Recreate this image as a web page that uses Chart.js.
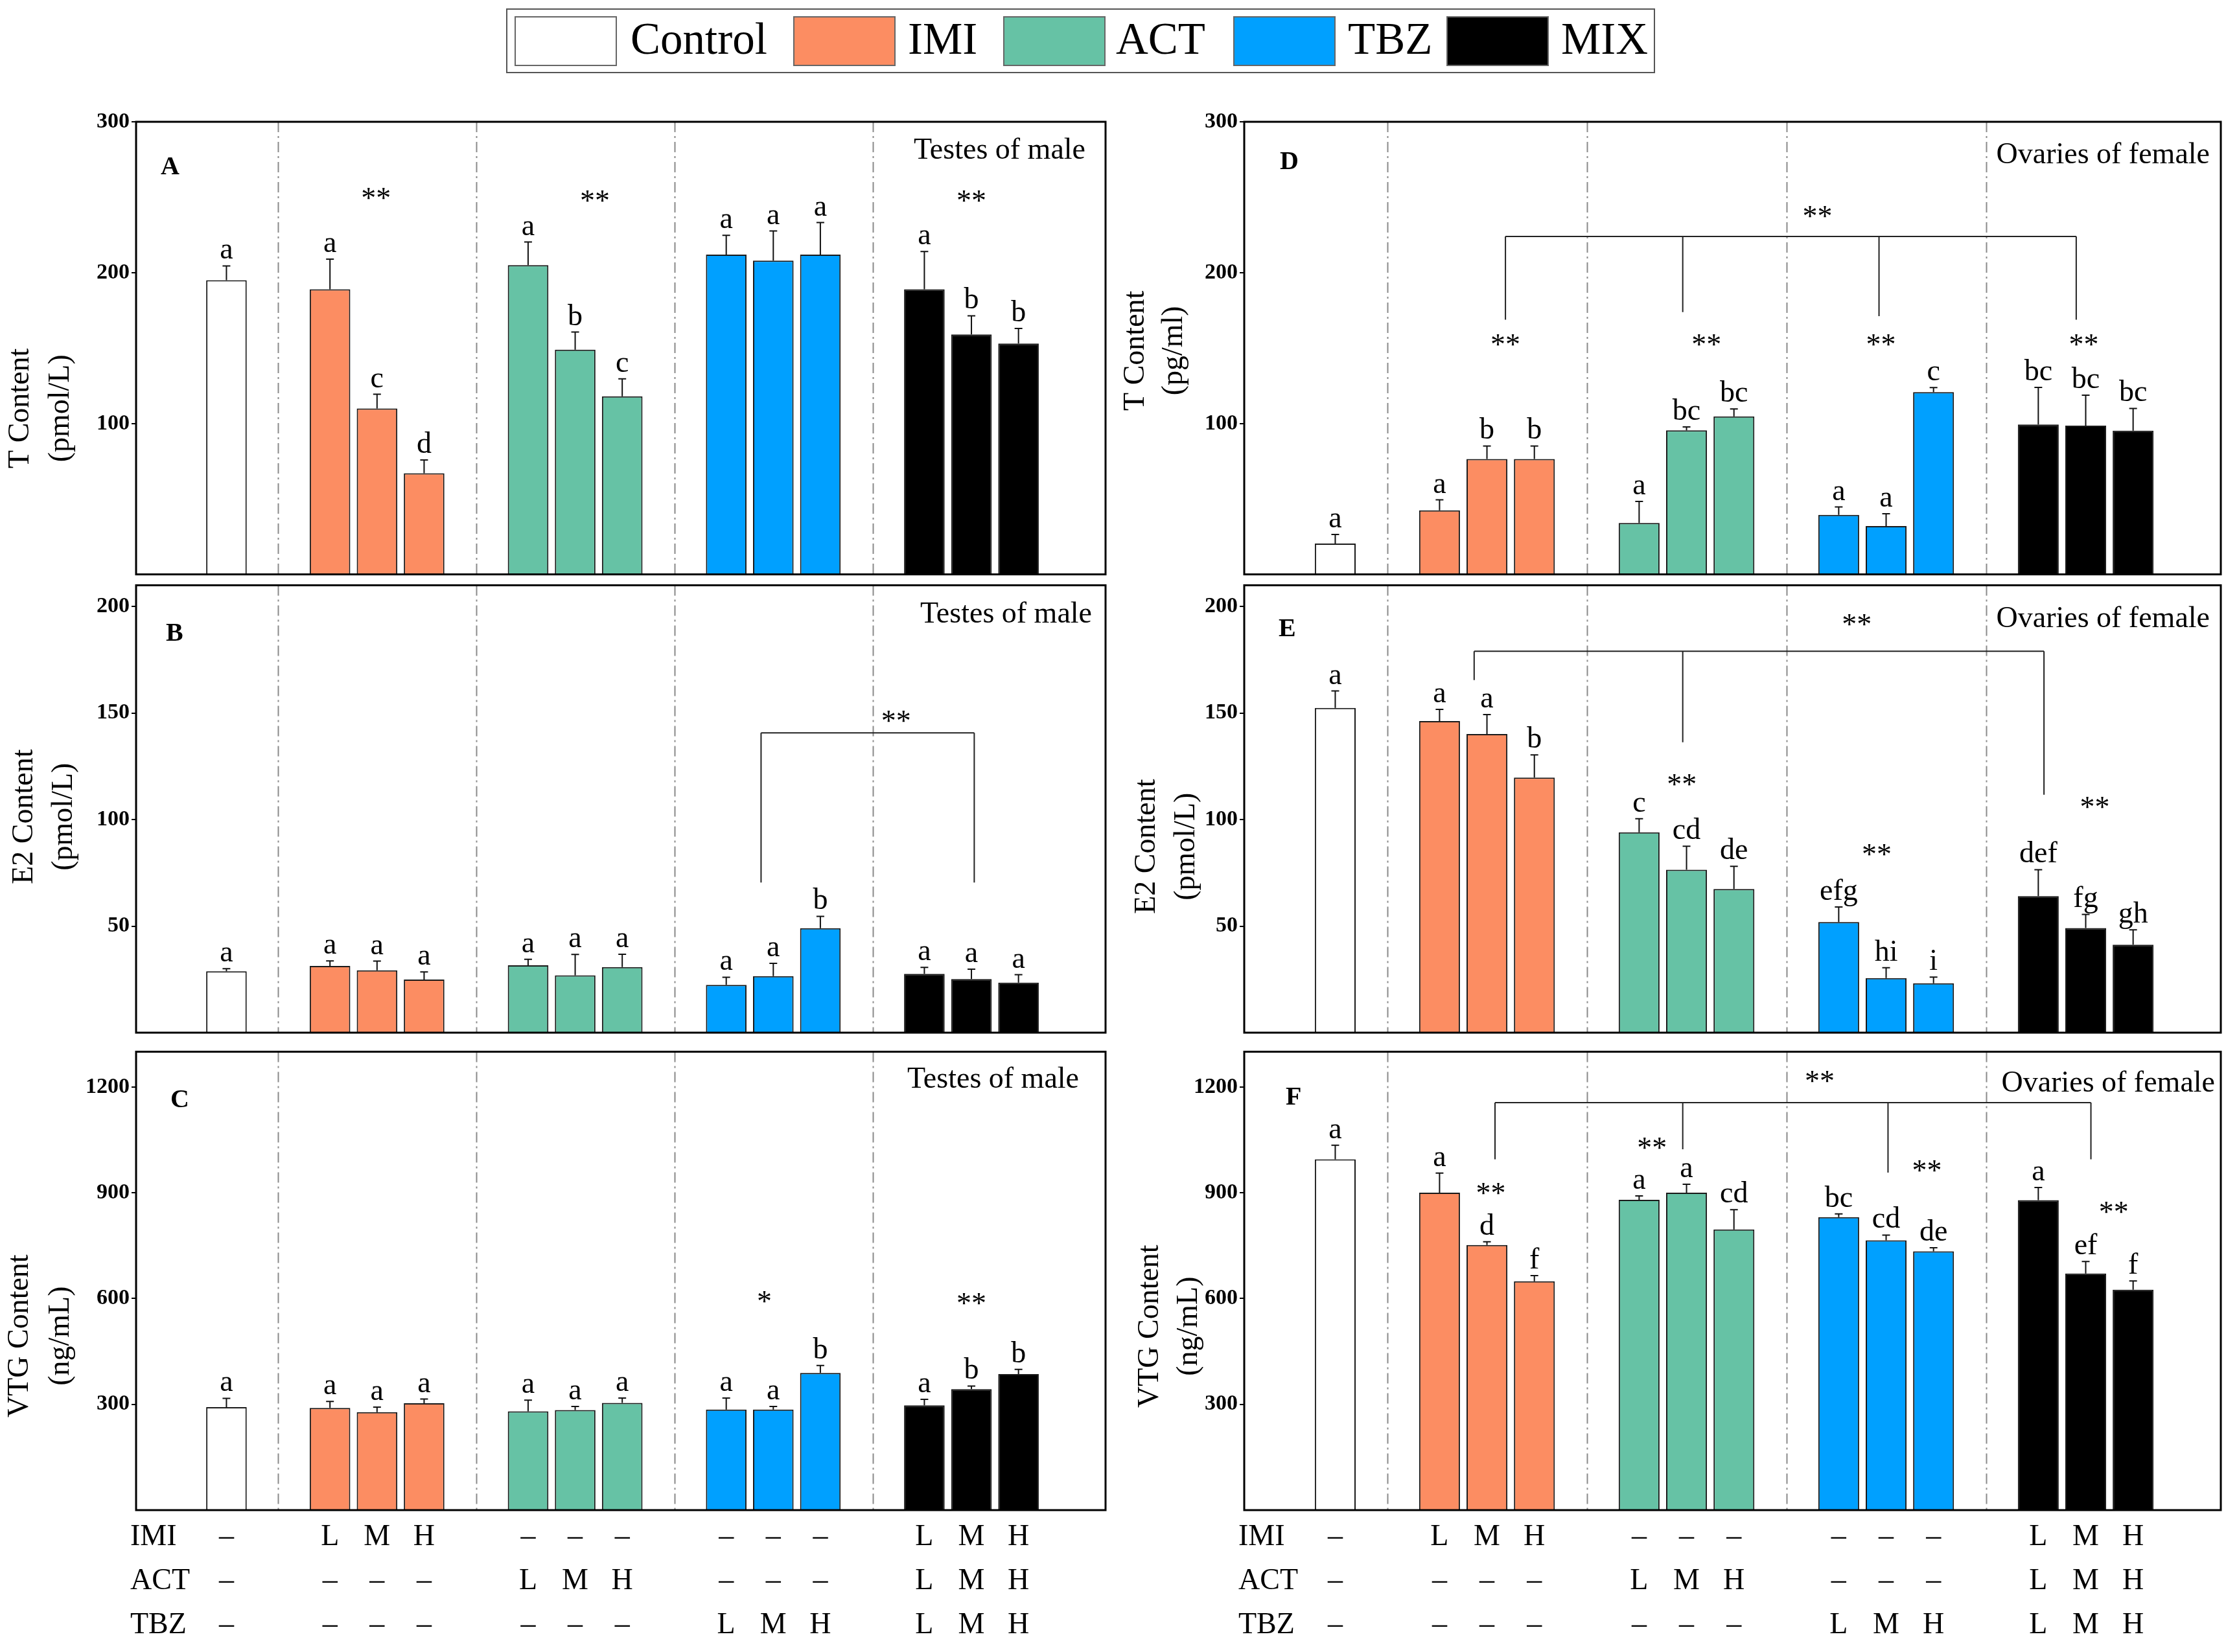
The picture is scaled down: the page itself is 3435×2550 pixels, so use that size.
<!DOCTYPE html>
<html>
<head>
<meta charset="utf-8">
<script src="https://cdn.jsdelivr.net/npm/chart.js@4.4.1/dist/chart.umd.min.js"></script>
<style>
html, body { margin: 0; padding: 0; background: #fff; }
body { width: 3435px; height: 2550px; position: relative; overflow: hidden; font-family: "Liberation Serif", "Times New Roman", serif; }
canvas { position: absolute; }
#legend { position: absolute; left: 781px; top: 13px; width: 1773px; height: 100px; border: 2px solid #555; box-sizing: border-box; }
#legend .sw { position: absolute; top: 10px; width: 158px; height: 77px; border: 2px solid #666; box-sizing: border-box; }
#legend .lt { position: absolute; top: 11px; font-size: 69px; line-height: 69px; color: #000; white-space: nowrap; }
</style>
</head>
<body>
<div id="legend"></div>
<canvas id="cA"></canvas>
<canvas id="cB"></canvas>
<canvas id="cC"></canvas>
<canvas id="cD"></canvas>
<canvas id="cE"></canvas>
<canvas id="cF"></canvas>
<script>
// groups and colours
var groups = ['Control', 'IMI', 'ACT', 'TBZ', 'MIX'];
var colors = ['#ffffff', '#fc8d62', '#66c2a5', '#00a0ff', '#000000'];

// exposure table under the bottom panels (one entry per bar)
var rowNames = ['IMI', 'ACT', 'TBZ'];
var imiRow = ['–', 'L', 'M', 'H', '–', '–', '–', '–', '–', '–', 'L', 'M', 'H'];
var actRow = ['–', '–', '–', '–', 'L', 'M', 'H', '–', '–', '–', 'L', 'M', 'H'];
var tbzRow = ['–', '–', '–', '–', '–', '–', '–', 'L', 'M', 'H', 'L', 'M', 'H'];

// A: T content, testes of male (pmol/L)
var tMale    = [195, 189, 110, 67, 205, 149, 118, 212, 208, 212, 189, 159, 153];
var tMaleSd  = [9.5, 20, 9.4, 8.8, 15.3, 11.6, 11.6, 12.7, 19.6, 21.2, 25, 12.4, 10];
var tMaleSig = ['a', 'a', 'c', 'd', 'a', 'b', 'c', 'a', 'a', 'a', 'a', 'b', 'b'];
var tMaleTicks = [100, 200, 300];

// B: E2 content, testes of male (pmol/L)
var e2Male    = [28.8, 31.3, 29.3, 24.9, 31.6, 26.9, 30.8, 22.4, 26.5, 49, 27.6, 25.2, 23.5];
var e2MaleSd  = [1.2, 2.4, 4.3, 3.6, 2.8, 9.8, 6, 3.6, 6, 5.6, 3, 4.6, 3.7];
var e2MaleSig = ['a', 'a', 'a', 'a', 'a', 'a', 'a', 'a', 'a', 'b', 'a', 'a', 'a'];
var e2Ticks = [50, 100, 150, 200];

// C: VTG content, testes of male (ng/mL)
var vtgMale    = [292, 290, 278, 303, 280, 284, 304, 285, 285, 389, 297, 343, 386];
var vtgMaleSd  = [25, 18, 14, 12, 32, 10, 14, 33, 9, 21, 17, 9, 13];
var vtgMaleSig = ['a', 'a', 'a', 'a', 'a', 'a', 'a', 'a', 'a', 'b', 'a', 'b', 'b'];
var vtgTicks = [300, 600, 900, 1200];

// D: T content, ovaries of female (pg/ml)
var tFemale    = [20.4, 42.4, 76.5, 76.5, 34.1, 95.5, 104.7, 39.4, 32, 120.8, 99.4, 98.6, 95.3];
var tFemaleSd  = [6, 7, 8.6, 8.6, 14.3, 2.2, 5, 5.3, 8.2, 3, 24.5, 20.2, 14.7];
var tFemaleSig = ['a', 'a', 'b', 'b', 'a', 'bc', 'bc', 'a', 'a', 'c', 'bc', 'bc', 'bc'];

// E: E2 content, ovaries of female (pmol/L)
var e2Female    = [152.4, 146.3, 140.2, 119.7, 94, 76.5, 67.4, 51.9, 25.6, 23.2, 64.1, 49.1, 41.3];
var e2FemaleSd  = [8, 5.4, 9.1, 10.7, 6.4, 11, 10.7, 7.1, 4.9, 2.9, 12.4, 6.4, 7];
var e2FemaleSig = ['a', 'a', 'a', 'b', 'c', 'cd', 'de', 'efg', 'hi', 'i', 'def', 'fg', 'gh'];

// F: VTG content, ovaries of female (ng/mL)
var vtgFemale    = [995, 900, 752, 649, 880, 900, 796, 831, 765, 734, 879, 671, 625];
var vtgFemaleSd  = [40, 56, 9, 16, 11, 24, 56, 9, 15, 10, 36, 34, 25];
var vtgFemaleSig = ['a', 'a', 'd', 'f', 'a', 'a', 'cd', 'bc', 'cd', 'de', 'a', 'ef', 'f'];

var serif = '"Liberation Serif", "Times New Roman", serif';

// x layout on a linear axis: control, then four groups of three doses
function slotX(i) {
  if (i === 0) return 1.92;
  var g = Math.floor((i - 1) / 3), k = (i - 1) % 3;
  return 4.12 + g * 4.21 + k;
}
function barColor(i) { return i === 0 ? colors[0] : colors[1 + Math.floor((i - 1) / 3)]; }
var slots = tMale.map(function (_, i) { return slotX(i); });
var separators = [3.02, 7.23, 11.44, 15.65];
var xMax = 20.6;

// page layout
var colLeft = [0, 1720], colWidth = [1720, 1715];
var areaLeft = [210, 1920], areaRight = [1706, 3427];
var rowTop = [120, 880, 1600], rowHeight = [790, 760, 950];
var areaTop = [188, 902, 1617], areaBottom = [902, 1617, 2331];
var yAxisWidth = 100;

var panels = [
  { id: 'A', col: 0, row: 0, title: ['T Content', '(pmol/L)'], max: 300, ticks: tMaleTicks,
    values: tMale, sd: tMaleSd, sig: tMaleSig, tissue: 'Testes of male',
    titleDx: [-178, -116], titleShift: 93, labelPos: [38, 81], tissuePos: [31, 57],
    stars: [[5.1, 252, '**'], [9.75, 250, '**'], [17.75, 250, '**']], brackets: [] },
  { id: 'B', col: 0, row: 1, title: ['E2 Content', '(pmol/L)'], max: 210, ticks: e2Ticks,
    values: e2Male, sd: e2MaleSd, sig: e2MaleSig, tissue: 'Testes of male',
    titleDx: [-172, -111], titleShift: 12, labelPos: [46, 86], tissuePos: [21, 58],
    stars: [[16.15, 148, '**']],
    brackets: [{ y: 140.7, drops: [[13.28, 70.5], [17.81, 70.5]] }] },
  { id: 'C', col: 0, row: 2, title: ['VTG Content', '(ng/mL)'], max: 1300, ticks: vtgTicks,
    values: vtgMale, sd: vtgMaleSd, sig: vtgMaleSig, tissue: 'Testes of male',
    titleDx: [-179, -116], titleShift: 85, labelPos: [53, 86], tissuePos: [41, 56],
    stars: [[13.35, 602, '*'], [17.75, 597, '**']], brackets: [], table: true },
  { id: 'D', col: 1, row: 0, title: ['T Content', '(pg/ml)'], max: 300, ticks: tMaleTicks,
    values: tFemale, sd: tFemaleSd, sig: tFemaleSig, tissue: 'Ovaries of female',
    titleDx: [-167, -108], titleShift: 4, labelPos: [55, 73], tissuePos: [17, 64],
    stars: [[12.09, 240, '**'], [5.51, 155, '**'], [9.75, 155, '**'], [13.43, 155, '**'], [17.71, 155, '**']],
    brackets: [{ y: 224, drops: [[5.51, 168.8], [9.25, 173.9], [13.39, 171.2], [17.55, 168.8]] }] },
  { id: 'E', col: 1, row: 1, title: ['E2 Content', '(pmol/L)'], max: 210, ticks: e2Ticks,
    values: e2Female, sd: e2FemaleSd, sig: e2FemaleSig, tissue: 'Ovaries of female',
    titleDx: [-150, -89], titleShift: 58, labelPos: [53, 79], tissuePos: [17, 65],
    stars: [[12.92, 193.4, '**'], [9.23, 118.2, '**'], [13.34, 85.5, '**'], [17.94, 107.5, '**']],
    brackets: [{ y: 179, drops: [[4.85, 165.5], [9.25, 136.3], [16.87, 111.7]] }] },
  { id: 'F', col: 1, row: 2, title: ['VTG Content', '(ng/mL)'], max: 1300, ticks: vtgTicks,
    values: vtgFemale, sd: vtgFemaleSd, sig: vtgFemaleSig, tissue: 'Ovaries of female',
    titleDx: [-145, -85], titleShift: 70, labelPos: [64, 82], tissuePos: [9, 62],
    stars: [[12.14, 1227, '**'], [5.2, 909, '**'], [8.6, 1038, '**'], [14.4, 974, '**'], [18.34, 856, '**']],
    brackets: [{ y: 1155.7, drops: [[5.29, 994.8], [9.25, 1023.5], [13.58, 957.4], [17.86, 994.8]] }], table: true }
];

// legend
var legendSwatch = [11, 441, 765, 1120, 1449];
var legendText = [190, 618, 939, 1297, 1626];
var legend = document.getElementById('legend');
groups.forEach(function (g, i) {
  var sw = document.createElement('div');
  sw.className = 'sw';
  sw.style.left = legendSwatch[i] + 'px';
  sw.style.background = colors[i];
  legend.appendChild(sw);
  var t = document.createElement('div');
  t.className = 'lt';
  t.style.left = legendText[i] + 'px';
  t.textContent = g;
  legend.appendChild(t);
});

function makeDecor(p) {
  return {
    id: 'decor' + p.id,
    beforeDatasetsDraw: function (chart) {
      var ctx = chart.ctx, a = chart.chartArea, x = chart.scales.x;
      ctx.save();
      ctx.strokeStyle = '#8a8a8a';
      ctx.lineWidth = 2;
      ctx.setLineDash([16, 6, 3, 6]);
      separators.forEach(function (v) {
        var px = Math.round(x.getPixelForValue(v)) + 0.5;
        ctx.beginPath(); ctx.moveTo(px, a.top); ctx.lineTo(px, a.bottom); ctx.stroke();
      });
      ctx.restore();
    },
    afterDatasetsDraw: function (chart) {
      var ctx = chart.ctx, a = chart.chartArea, x = chart.scales.x, y = chart.scales.y;
      var bars = chart.getDatasetMeta(0).data;
      ctx.save();
      // error bars and letters
      ctx.strokeStyle = '#111';
      ctx.lineWidth = 2;
      ctx.fillStyle = '#000';
      ctx.font = '46px ' + serif;
      ctx.textAlign = 'center';
      ctx.textBaseline = 'alphabetic';
      p.values.forEach(function (v, i) {
        var bx = bars[i].x;
        var top = y.getPixelForValue(v);
        var et = y.getPixelForValue(v + p.sd[i]);
        ctx.beginPath();
        ctx.moveTo(bx, top); ctx.lineTo(bx, et);
        ctx.moveTo(bx - 6, et); ctx.lineTo(bx + 6, et);
        ctx.stroke();
        ctx.fillText(p.sig[i], bx, et - 11);
      });
      // significance stars
      p.stars.forEach(function (s) {
        ctx.fillText(s[2], x.getPixelForValue(s[0]), y.getPixelForValue(s[1]) + 21);
      });
      // brackets
      ctx.strokeStyle = '#222';
      p.brackets.forEach(function (b) {
        var yb = y.getPixelForValue(b.y);
        var first = b.drops[0][0], last = b.drops[b.drops.length - 1][0];
        ctx.beginPath();
        ctx.moveTo(x.getPixelForValue(first), yb);
        ctx.lineTo(x.getPixelForValue(last), yb);
        b.drops.forEach(function (d) {
          var dx = x.getPixelForValue(d[0]);
          ctx.moveTo(dx, yb); ctx.lineTo(dx, y.getPixelForValue(d[1]));
        });
        ctx.stroke();
      });
      // frame
      ctx.strokeStyle = '#000';
      ctx.lineWidth = 3;
      ctx.strokeRect(a.left, a.top, a.right - a.left, a.bottom - a.top);
      // panel letter
      ctx.textAlign = 'left';
      ctx.font = 'bold 40px ' + serif;
      ctx.fillText(p.id, a.left + p.labelPos[0], a.top + p.labelPos[1]);
      // tissue
      ctx.textAlign = 'right';
      ctx.font = '46px ' + serif;
      ctx.fillText(p.tissue, a.right - p.tissuePos[0], a.top + p.tissuePos[1]);
      // axis title
      ctx.save();
      var cy = (a.top + a.bottom) / 2 + p.titleShift;
      ctx.textAlign = 'center';
      ctx.textBaseline = 'middle';
      p.title.forEach(function (t, k) {
        ctx.save();
        ctx.translate(a.left + p.titleDx[k], cy);
        ctx.rotate(-Math.PI / 2);
        ctx.fillText(t, 0, 0);
        ctx.restore();
      });
      ctx.restore();
      // row names of the exposure table
      if (p.table) {
        ctx.textAlign = 'left';
        ctx.textBaseline = 'middle';
        ctx.font = '46px ' + serif;
        rowNames.forEach(function (r, k) {
          ctx.fillText(r, a.left - 9, x.top + 8 + 68 * (k + 0.5));
        });
      }
      ctx.restore();
    }
  };
}

panels.forEach(function (p) {
  var cv = document.getElementById('c' + p.id);
  var c = p.col, r = p.row;
  cv.width = colWidth[c];
  cv.height = rowHeight[r];
  cv.style.left = colLeft[c] + 'px';
  cv.style.top = rowTop[r] + 'px';
  var padTop = areaTop[r] - rowTop[r];
  var padBottom = p.table ? 0 : rowTop[r] + rowHeight[r] - areaBottom[r];
  var tableHeight = rowTop[r] + rowHeight[r] - areaBottom[r];
  new Chart(cv, {
    type: 'bar',
    data: {
      datasets: [{
        data: p.values.map(function (v, i) { return { x: slots[i], y: v }; }),
        backgroundColor: p.values.map(function (_, i) { return barColor(i); }),
        borderColor: '#1a1a1a',
        borderWidth: 2,
        barPercentage: 0.862,
        categoryPercentage: 1
      }]
    },
    options: {
      responsive: false,
      animation: false,
      devicePixelRatio: 1,
      layout: { padding: { left: areaLeft[c] - colLeft[c] - yAxisWidth, right: colLeft[c] + colWidth[c] - areaRight[c], top: padTop, bottom: padBottom } },
      plugins: { legend: { display: false }, tooltip: { enabled: false } },
      scales: {
        x: {
          type: 'linear', min: 0, max: xMax, offset: false, display: !!p.table,
          afterBuildTicks: function (s) { s.ticks = slots.map(function (v) { return { value: v }; }); },
          afterFit: function (s) { s.height = tableHeight; },
          grid: { display: false, drawTicks: false, offset: false },
          border: { display: false },
          ticks: {
            autoSkip: false, maxRotation: 0, minRotation: 0, padding: 8, color: '#000',
            font: { family: serif, size: 46, lineHeight: 68 / 46 },
            callback: function (v, i) { return [imiRow[i], actRow[i], tbzRow[i]]; }
          }
        },
        y: {
          min: 0, max: p.max,
          afterBuildTicks: function (s) { s.ticks = p.ticks.map(function (v) { return { value: v }; }); },
          afterFit: function (s) { s.width = yAxisWidth; },
          grid: { display: true, drawOnChartArea: false, drawTicks: true, tickLength: 7, color: '#000', lineWidth: 2 },
          border: { display: false },
          ticks: { color: '#000', padding: 3, font: { family: serif, size: 34, weight: 'bold' },
            callback: function (v) { return String(v); } }
        }
      }
    },
    plugins: [makeDecor(p)]
  });
});
</script>
</body>
</html>
